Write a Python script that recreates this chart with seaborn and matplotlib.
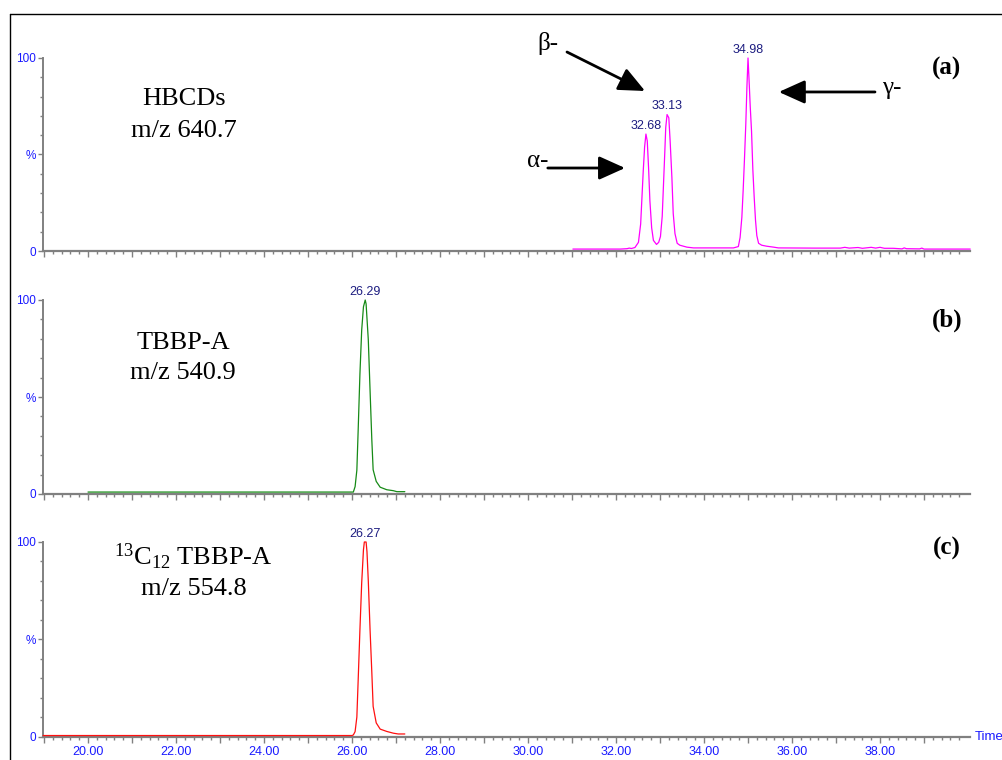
import matplotlib
matplotlib.use("Agg")
import matplotlib.pyplot as plt
import seaborn as sns
from matplotlib.ticker import MultipleLocator, FixedLocator, FuncFormatter
from matplotlib.lines import Line2D

# chromatogram traces (time in min, relative intensity in %)
hbcd_t = [31.02, 32.10, 32.25, 32.30, 32.35, 32.43, 32.51, 32.56, 32.59, 32.62, 32.65,
          32.68, 32.71, 32.74, 32.77, 32.81, 32.85, 32.92, 32.97, 33.01, 33.05, 33.08,
          33.11, 33.13, 33.16, 33.20, 33.23, 33.27, 33.30, 33.34, 33.39, 33.45, 33.61,
          33.76, 34.67, 34.78, 34.82, 34.86, 34.89, 34.92, 34.95, 34.975, 35.00, 35.025,
          35.05, 35.08, 35.11, 35.14, 35.17, 35.20, 35.24, 35.31, 35.42, 35.58, 35.69,
          36.50, 37.10, 37.20, 37.30, 37.50, 37.60, 37.80, 37.90, 38.00, 38.10, 38.30,
          38.50, 38.55, 38.60, 38.90, 38.95, 39.00, 40.05]
hbcd_y = [1.0, 1.0, 1.2, 1.5, 1.3, 1.8, 4.5, 14, 28, 42, 54,
          60.6, 57, 43, 26, 12, 5.5, 3.4, 4.5, 7.5, 18, 35,
          52, 64, 70.7, 69, 57, 38, 19.5, 9, 4, 3, 2,
          1.6, 1.6, 2.3, 7, 17.5, 31.6, 48, 66, 85, 100, 88,
          75, 62, 42, 28, 16, 8, 4, 3, 2.5, 2.0, 1.6,
          1.5, 1.5, 1.9, 1.5, 1.8, 1.4, 1.9, 1.5, 1.9, 1.4, 1.4,
          1.1, 1.6, 1.2, 1.1, 1.5, 1.0, 1.0]

tbbpa_t = [20.00, 26.03, 26.07, 26.11, 26.14, 26.18, 26.22, 26.26, 26.30, 26.32, 26.37,
           26.41, 26.45, 26.48, 26.55, 26.64, 26.79, 26.94, 27.02, 27.20]
tbbpa_y = [1.0, 1.0, 3.8, 12.3, 33, 62, 84.5, 96.5, 100, 98, 79.5,
           53.5, 28, 12.5, 6.5, 3.5, 2.2, 1.7, 1.2, 1.2]

c13_t = [18.98, 26.00, 26.03, 26.07, 26.11, 26.14, 26.18, 26.22, 26.26, 26.28, 26.32,
         26.34, 26.37, 26.41, 26.45, 26.48, 26.55, 26.64, 26.79, 26.94, 27.05, 27.20]
c13_y = [0.5, 0.5, 0.8, 2.5, 10, 29, 55, 79, 96, 100, 100,
         95, 80, 55, 33, 15.5, 7, 3.8, 2.6, 1.7, 1.3, 1.3]

# peak apex labels
hbcd_peak_t = [32.68, 33.16, 35.00]
hbcd_peak_y = [60.6, 70.7, 100]
hbcd_peak_txt = ["32.68", "33.13", "34.98"]
tbbpa_peak = (26.30, 100, "26.29")
c13_peak = (26.30, 100, "26.27")

# time axis ticks: long every minute, short every 0.2 min, no tick at 40
major_ticks = list(range(19, 40))
minor_ticks = [19 + 0.2 * i for i in range(105)]

sns.set_theme(style="white")
plt.rcParams["font.family"] = ["Liberation Sans", "DejaVu Sans"]
plt.rcParams["text.color"] = "black"

gray = "#808080"
blue = "#1a1aff"
navy = "#1c1c80"
serif = "Liberation Serif"

fig = plt.figure(figsize=(10.03, 7.6), dpi=100)

# border of the original figure
fig.add_artist(Line2D([10 / 1003, 1.0], [1 - 14 / 760, 1 - 14 / 760], transform=fig.transFigure, color="black", lw=1))
fig.add_artist(Line2D([10 / 1003, 10 / 1003], [0.0, 1 - 14 / 760], transform=fig.transFigure, color="black", lw=1))

left = 43 / 1003
width = 927 / 1003
ax_a = fig.add_axes([left, 509 / 760, width, 193 / 760])
ax_b = fig.add_axes([left, 266 / 760, width, 194 / 760])
ax_c = fig.add_axes([left, 23.5 / 760, width, 194.5 / 760])


def fmt_x(v, pos):
    if round(v) % 2 == 0:
        return "%.2f" % v
    return ""


def style_axis(ax, show_labels):
    ax.set_xlim(18.977, 40.045)
    ax.set_ylim(0, 100)
    ax.patch.set_alpha(0)
    ax.grid(False)
    for s in ["top", "right"]:
        ax.spines[s].set_visible(False)
    ax.spines["left"].set_color(gray)
    ax.spines["left"].set_linewidth(1.4)
    ax.spines["bottom"].set_color(gray)
    ax.spines["bottom"].set_linewidth(1.6)
    ax.xaxis.set_major_locator(FixedLocator(major_ticks))
    ax.xaxis.set_minor_locator(FixedLocator(minor_ticks))
    ax.xaxis.set_major_formatter(FuncFormatter(fmt_x))
    ax.set_yticks([0, 50, 100])
    ax.set_yticklabels(["0", "%", "100"])
    ax.yaxis.set_minor_locator(MultipleLocator(10))
    ax.tick_params(axis="x", which="major", bottom=True, length=4.3, width=1, color=gray,
                   direction="out", labelsize=9, labelcolor=blue, pad=2.5, labelbottom=show_labels)
    ax.tick_params(axis="x", which="minor", bottom=True, length=2.2, width=1, color=gray, direction="out")
    ax.tick_params(axis="y", which="major", left=True, length=3.8, width=1, color=gray,
                   direction="out", labelsize=8.5, labelcolor=blue, pad=1.5)
    ax.tick_params(axis="y", which="minor", left=True, length=2.2, width=1, color=gray, direction="out")
    ax.set_xlabel("")
    ax.set_ylabel("")
    for ln in ax.lines:
        ln.set_clip_on(False)
        ln.set_zorder(3)


def peak_label(ax, t, y, txt):
    ax.annotate(txt, xy=(t, y), xytext=(0, 1.5), textcoords="offset points", ha="center",
                va="bottom", fontsize=9, color=navy, annotation_clip=False)


sns.lineplot(x=hbcd_t, y=hbcd_y, ax=ax_a, color="#ff00ff", linewidth=0.9, estimator=None, sort=False)
sns.lineplot(x=tbbpa_t, y=tbbpa_y, ax=ax_b, color="#168a16", linewidth=0.9, estimator=None, sort=False)
sns.lineplot(x=c13_t, y=c13_y, ax=ax_c, color="#ff1010", linewidth=0.9, estimator=None, sort=False)

style_axis(ax_a, False)
style_axis(ax_b, False)
style_axis(ax_c, True)

for t, y, s in zip(hbcd_peak_t, hbcd_peak_y, hbcd_peak_txt):
    peak_label(ax_a, t, y, s)
peak_label(ax_b, *tbbpa_peak)
peak_label(ax_c, *c13_peak)

# compound names
name_kw = dict(ha="center", va="center", family=serif, fontsize=19, color="black")
ax_a.text(0.1516, 0.788, "HBCDs", transform=ax_a.transAxes, **name_kw)
ax_a.text(0.1516, 0.622, "m/z 640.7", transform=ax_a.transAxes, **name_kw)
ax_b.text(0.151, 0.778, "TBBP-A", transform=ax_b.transAxes, **name_kw)
ax_b.text(0.151, 0.624, "m/z 540.9", transform=ax_b.transAxes, **name_kw)
ax_c.text(0.1624, 0.923, r"$\mathregular{^{13}C_{12}}$ TBBP-A", transform=ax_c.transAxes, **name_kw)
ax_c.text(0.1624, 0.758, "m/z 554.8", transform=ax_c.transAxes, **name_kw)

# panel letters
letter_kw = dict(ha="center", va="center", family=serif, fontsize=18, fontweight="bold", color="black")
ax_a.text(0.975, 0.948, "(a)", transform=ax_a.transAxes, **letter_kw)
ax_b.text(0.975, 0.897, "(b)", transform=ax_b.transAxes, **letter_kw)
ax_c.text(0.975, 0.969, "(c)", transform=ax_c.transAxes, **letter_kw)

# isomer arrows
arrow = dict(arrowstyle="-|>,head_length=0.8,head_width=0.36", color="black", lw=2,
             mutation_scale=20, shrinkA=0, shrinkB=0)
ax_a.annotate("", xy=(32.205, 43), xytext=(30.45, 43), arrowprops=arrow, annotation_clip=False)
ax_a.annotate("", xy=(32.66, 82.9), xytext=(30.886, 103.1), arrowprops=arrow, annotation_clip=False)
ax_a.annotate("", xy=(35.70, 82.4), xytext=(37.886, 82.4), arrowprops=arrow, annotation_clip=False)
greek_kw = dict(ha="center", va="center", family=serif, fontsize=18, color="black")
ax_a.text(30.23, 46.6, "α-", **greek_kw)
ax_a.text(30.45, 107.3, "β-", **greek_kw)
ax_a.text(38.27, 84.5, "γ-", **greek_kw)

ax_c.text(1.0 + 5 / 927, 0.0, "Time", transform=ax_c.transAxes, ha="left", va="center", fontsize=9.5, color=blue)

fig.savefig("out.png", dpi=100)
